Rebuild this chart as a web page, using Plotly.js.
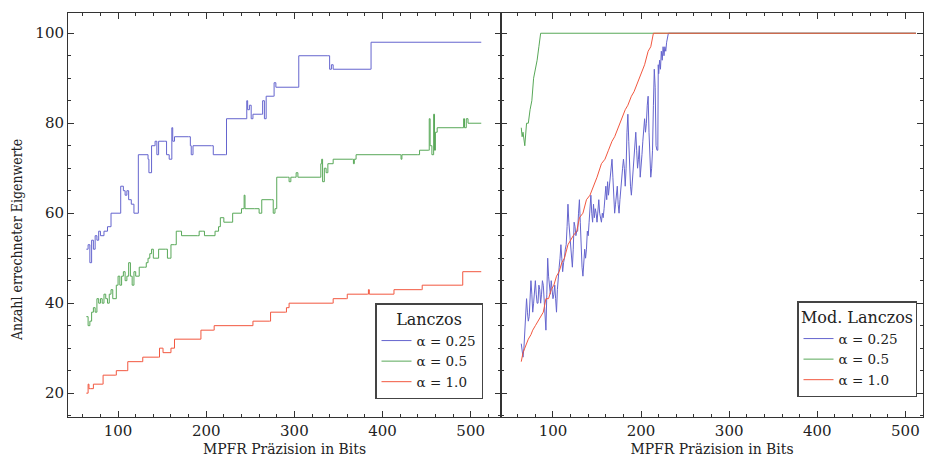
<!DOCTYPE html>
<html>
<head>
<meta charset="utf-8">
<script src="https://cdn.plot.ly/plotly-3.0.1.min.js"></script>
<style>html,body{margin:0;padding:0;background:#fff;}#chart{width:925px;height:458px;}</style>
</head>
<body>
<div id="chart"></div>
<script>
// ---- Left panel: Lanczos (step data, breakpoints) ----
const lanBlueX = [64,66,68,70,72,74,76,78,80,84,88,92,103,106,108,110,112,115,118,123,134,135,138,142,144,146,153,155,158,161,162,164,180,182,183,185,206,208,222,223,244,246,247,249,251,253,263,264,266,268,276,277,279,304,305,338,340,342,344,386,387,512];
const lanBlueY = [52,53,49,54,52,55,54,56,55,56,57,60,66,65,64,65,63,62,60,73,72,69,75,76,73,76,76,73,72,79,76,77,77,75,73,75,75,73,73,81,81,85,83,84,81,82,82,85,81,86,86,89,88,88,95,95,92,93,92,92,98,98];

const lanGreenX = [64,66,68,70,72,74,76,78,80,82,84,86,88,90,92,94,98,100,102,104,106,108,110,112,114,116,118,120,124,130,132,134,136,138,140,142,146,154,156,158,160,164,166,170,172,190,192,196,198,210,214,216,220,228,230,240,243,244,255,260,263,274,276,278,280,292,294,296,300,302,304,329,330,331,332,334,336,338,344,366,367,368,370,420,421,422,440,442,452,453,454,456,458,459,460,462,490,492,493,495,497,512];
const lanGreenY = [37,35,36,38,39,38,41,40,41,40,42,41,40,42,43,41,44,46,44,46,47,45,46,49,46,44,47,46,48,48,49,50,51,52,50,50,52,52,50,50,53,53,56,56,55,55,56,56,55,56,57,59,58,58,60,61,64,61,61,60,63,63,60,61,68,68,67,68,68,69,68,68,71,72,67,70,69,71,72,72,71,72,73,73,72,73,73,74,74,81,75,73,82,74,78,79,79,81,79,81,80,80];

const lanRedX = [64,66,67,69,72,82,83,97,98,110,111,127,128,146,147,150,151,160,164,193,194,208,209,252,253,272,273,290,291,294,343,344,359,360,383,384,385,412,413,444,445,490,491,512];
const lanRedY = [20,22,21,21,22,22,24,24,25,25,27,27,28,28,30,30,29,30,32,32,34,34,35,35,36,36,38,38,39,40,40,41,41,42,42,43,42,42,43,43,44,44,47,47];

// ---- Right panel: Mod. Lanczos ----
const modBlueX = [64,65,66,67,68,69,70,71,72,73,74,75,76,77,78,79,80,81,82,83,84,85,86,87,88,89,90,91,92,93,94,95,96,97,98,99,100,101,102,103,104,105,106,107,108,109,110,111,112,113,114,115,116,117,118,119,120,121,122,123,124,125,126,127,128,129,130,131,132,133,134,135,136,137,138,139,140,141,142,143,144,145,146,147,148,149,150,151,152,153,154,155,156,157,158,159,160,161,162,163,164,165,166,167,168,169,170,171,172,173,174,175,176,177,178,179,180,181,182,183,184,185,186,187,188,189,190,191,192,193,194,195,196,197,198,199,200,201,202,203,204,205,206,207,208,209,210,211,212,213,214,215,216,217,218,219,219.5,220,221,222,223,224,225,226,227,228,229,230,231,512];
const modBlueY = [31,29,28,30,35,39,41,38,36,37,40,45,42,38,40,43,45,42,40,40,44,43,40,42,45,44,40,35,34,42,50,46,44,42,45,43,41,42,44,41,38,43,47,48,50,53,50,47,49,50,52,53,57,62,58,55,52,51,48,52,58,57,55,56,56,60,63,58,52,48,46,49,52,50,52,56,55,58,62,64,60,58,62,59,61,60,58,62,63,60,59,58,60,59,61,64,66,63,67,64,66,68,70,72,68,64,60,62,64,66,62,60,63,66,68,70,72,70,66,70,78,82,76,70,66,64,67,70,74,76,78,74,70,72,75,68,70,73,76,78,81,78,80,84,86,78,72,68,70,74,84,92,88,75,74,74,93,91,94,92,96,94,97,95,97,96,98,99,100,100];

const modGreenX = [64,65,66,67,68,70,72,74,76,78,80,82,84,86,512];
const modGreenY = [79,77,78,76,75,80,80,83,85,90,92,94,97,100,100];

const modRedX = [64,66,68,70,72,75,77,80,83,86,89,92,95,98,101,104,107,110,113,117,120,123,127,130,134,138,142,146,150,155,159,163,167,170,174,178,182,185,189,192,196,200,204,208,211,214,512];
const modRedY = [27,29,30,31,32,33,34,35,36,37,38,41,41,43,44,46,47,49,50,53,54,55,56,59,60,63,64,66,68,71,72,74,76,77,79,81,83,84,86,87,89,91,93,96,97,100,100];

const seriesNames = ['α = 0.25', 'α = 0.5', 'α = 1.0'];
const colors = ['#6565ce', '#58a858', '#f2573f'];

const FONT = 'DejaVu Serif, serif';
const CFONT = 'DejaVu Serif Condensed, DejaVu Serif, serif';

function tr(x, y, i, xa, ya, leg, shape) {
  return {x: x, y: y, type: 'scatter', mode: 'lines', name: seriesNames[i],
    line: {color: colors[i], width: 1, shape: shape}, xaxis: xa, yaxis: ya, legend: leg};
}

const data = [
  tr(lanBlueX, lanBlueY, 0, 'x', 'y', 'legend', 'hv'),
  tr(lanGreenX, lanGreenY, 1, 'x', 'y', 'legend', 'hv'),
  tr(lanRedX, lanRedY, 2, 'x', 'y', 'legend', 'hv'),
  tr(modBlueX, modBlueY, 0, 'x2', 'y2', 'legend2', 'linear'),
  tr(modGreenX, modGreenY, 1, 'x2', 'y2', 'legend2', 'linear'),
  tr(modRedX, modRedY, 2, 'x2', 'y2', 'legend2', 'linear')
];

const axCommon = {
  showgrid: false, zeroline: false, showline: true, linecolor: '#333', linewidth: 1,
  mirror: 'allticks', ticks: 'inside', ticklen: 6, tickcolor: '#333', tickwidth: 1,
  tickfont: {family: FONT, size: 15, color: '#222'},
  minor: {ticks: 'inside', ticklen: 3, tickcolor: '#333', showgrid: false}
};

const split = (501 - 68) / 855;
const xTitleFont = {family: CFONT, size: 15.5, color: '#222'};

const layout = {
  width: 925, height: 458,
  margin: {l: 68, r: 2, t: 13, b: 41},
  paper_bgcolor: '#fff', plot_bgcolor: '#fff',
  font: {family: FONT, color: '#222'},
  xaxis: Object.assign({}, axCommon, {domain: [0, split], range: [43.2, 534.4], dtick: 100, tick0: 0,
    minor: Object.assign({}, axCommon.minor, {dtick: 20}),
    title: {text: 'MPFR Präzision in Bits', font: xTitleFont, standoff: 3}}),
  xaxis2: Object.assign({}, axCommon, {domain: [split, 1], range: [41, 520], dtick: 100, tick0: 0, anchor: 'y2',
    minor: Object.assign({}, axCommon.minor, {dtick: 20}),
    title: {text: 'MPFR Präzision in Bits', font: xTitleFont, standoff: 3}}),
  yaxis: Object.assign({}, axCommon, {range: [14.7, 104.5], dtick: 20, tick0: 0,
    minor: Object.assign({}, axCommon.minor, {dtick: 5})}),
  yaxis2: Object.assign({}, axCommon, {range: [14.7, 104.5], dtick: 20, tick0: 0, anchor: 'x2', showticklabels: false,
    minor: Object.assign({}, axCommon.minor, {dtick: 5})}),
  annotations: [{
    text: 'Anzahl errechneter Eigenwerte', textangle: -90, showarrow: false,
    xref: 'paper', yref: 'paper', x: (17 - 68) / 855, y: (417 - 240) / 404,
    xanchor: 'center', yanchor: 'middle',
    font: {family: CFONT, size: 14, color: '#222'}
  }],
  legend: {x: (483 - 68) / 855, xanchor: 'right', y: (417 - 399) / 404, yanchor: 'bottom',
    bgcolor: '#fff', bordercolor: '#444', borderwidth: 1.5,
    font: {family: FONT, size: 13.5, color: '#222'}, tracegroupgap: 0, itemwidth: 30,
    title: {text: 'Lanczos', side: 'top center', font: {family: FONT, size: 16, color: '#222'}}},
  legend2: {x: (917 - 68) / 855, xanchor: 'right', y: (417 - 397) / 404, yanchor: 'bottom',
    bgcolor: '#fff', bordercolor: '#444', borderwidth: 1.5,
    font: {family: FONT, size: 13.5, color: '#222'}, tracegroupgap: 0, itemwidth: 30,
    title: {text: 'Mod. Lanczos', side: 'top center', font: {family: FONT, size: 16, color: '#222'}}},
  showlegend: true
};

Plotly.newPlot('chart', data, layout, {displayModeBar: false, staticPlot: true});
</script>
</body>
</html>
